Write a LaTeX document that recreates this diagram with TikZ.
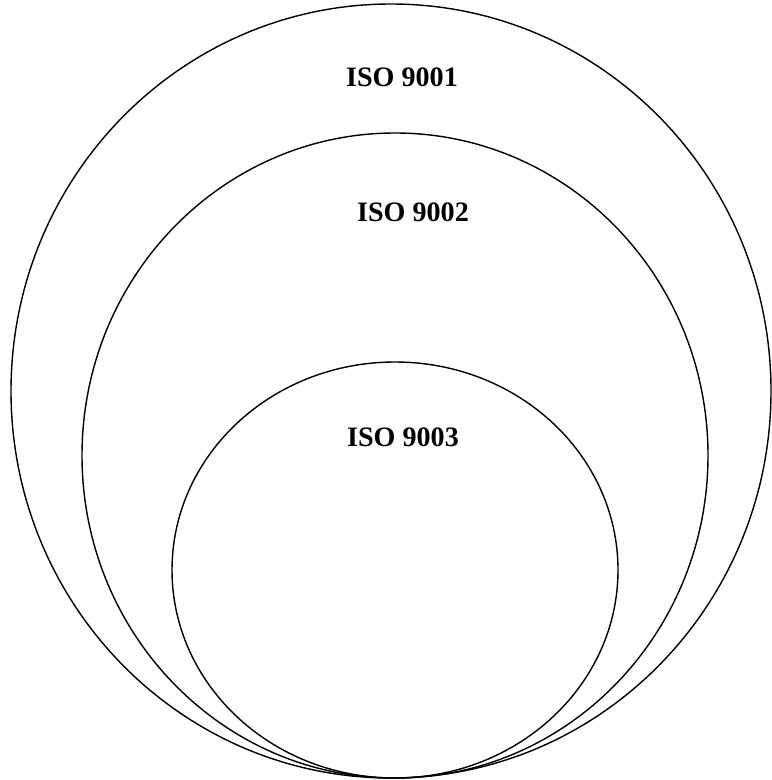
\documentclass[tikz,border=0pt]{standalone}
\usepackage{fontspec}
\setmainfont{Liberation Serif}
\usetikzlibrary{positioning}

\begin{document}
\begin{tikzpicture}[
    x=0.02cm, y=-0.02cm,
    ring/.style={draw, line width=0.8pt},
    lbl/.style={font=\fontsize{16}{19}\selectfont\bfseries, inner sep=0pt}
]
\useasboundingbox (0,0) rectangle (771,780);

% ---- ellipses ----
\draw[ring] (391,391) ellipse [x radius=380, y radius=387];
\draw[ring] (395,455.5) ellipse [x radius=313, y radius=322.5];
\draw[ring] (395,570) ellipse [x radius=223, y radius=208];

% ---- labels ----
\node[lbl] (iso1) at (402,77) {ISO 9001};
\node[lbl] (iso2) at (413,212) {ISO 9002};
\node[lbl] (iso3) at (403,437) {ISO 9003};
\end{tikzpicture}
\end{document}
